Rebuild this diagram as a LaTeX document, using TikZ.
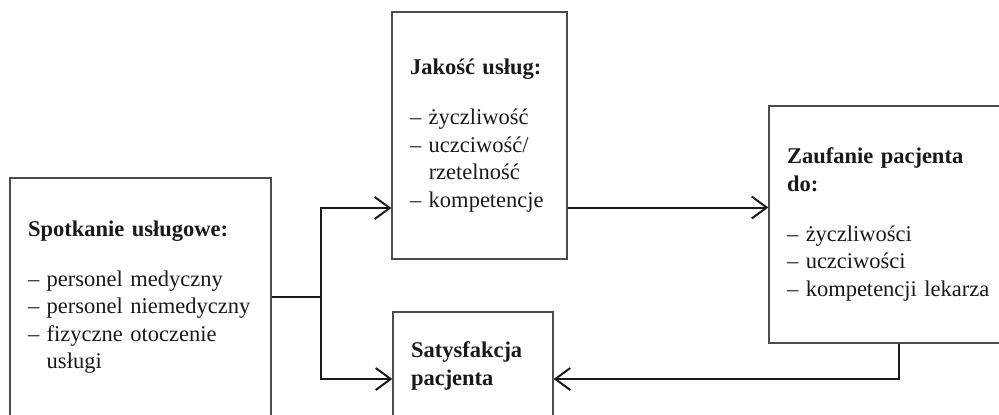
\documentclass[tikz,border=0pt]{standalone}
\usepackage{fontspec}
\setmainfont{Liberation Serif}
\usepackage{tikz}
\usetikzlibrary{arrows.meta}
\tikzstyle{box} = [rectangle, draw=black!70, line width=1.2pt, inner xsep=18pt, inner ysep=0pt, align=left, text=black!90, font=\fontsize{22.5}{27.5}\selectfont]
\tikzstyle{line} = [line width=2pt, black!90]
\tikzstyle{arrow} = [line, -{Straight Barb[length=15pt, width=22pt, line width=2pt]}]

\begin{document}
\begin{tikzpicture}[x=1pt, y={(0pt,-1pt)}]
        \useasboundingbox (0,0) rectangle (999,415);
        \clip (0,0) rectangle (999,415);

        \node[box, minimum width=261pt, minimum height=238pt, text width=225pt] (spotkanie) at (140.5,297)
            {\textbf{Spotkanie usługowe:}\\[22.5pt] – personel medyczny\\ – personel niemedyczny\\ – fizyczne otoczenie\\ \phantom{– }usługi};
        \node[box, minimum width=175pt, minimum height=247pt, text width=139pt] (jakosc) at (479.5,135.5)
            {\textbf{Jakość usług:}\\[22.5pt] – życzliwość\\ – uczciwość/\\ \phantom{– }rzetelność\\ – kompetencje};
        \node[box, minimum width=260pt, minimum height=237pt, text width=224pt] (zaufanie) at (899,224.5)
            {\textbf{Zaufanie pacjenta}\\ \textbf{do:}\\[22.5pt] – życzliwości\\ – uczciwości\\ – kompetencji lekarza};
        \node[box, minimum width=160pt, minimum height=108pt, text width=124pt] (satysfakcja) at (473,366)
            {\textbf{Satysfakcja}\\ \textbf{pacjenta}};

        \coordinate (split) at (321,297);
        \coordinate (jakosc in) at ([yshift=-72.5pt]jakosc.west);
        \coordinate (jakosc out) at ([yshift=-72pt]jakosc.east);
        \coordinate (satysfakcja in) at ([yshift=-13pt]satysfakcja.west);
        \coordinate (satysfakcja back) at ([yshift=-13pt]satysfakcja.east);

        \draw[line]  (spotkanie.east |- split) -- (split);
        \draw[arrow] (split) |- (jakosc in);
        \draw[arrow] (split) |- (satysfakcja in);
        \draw[arrow] (jakosc out) -- (jakosc out -| zaufanie.west);
        \draw[arrow] (zaufanie.south) |- (satysfakcja back);
    \end{tikzpicture}
\end{document}
